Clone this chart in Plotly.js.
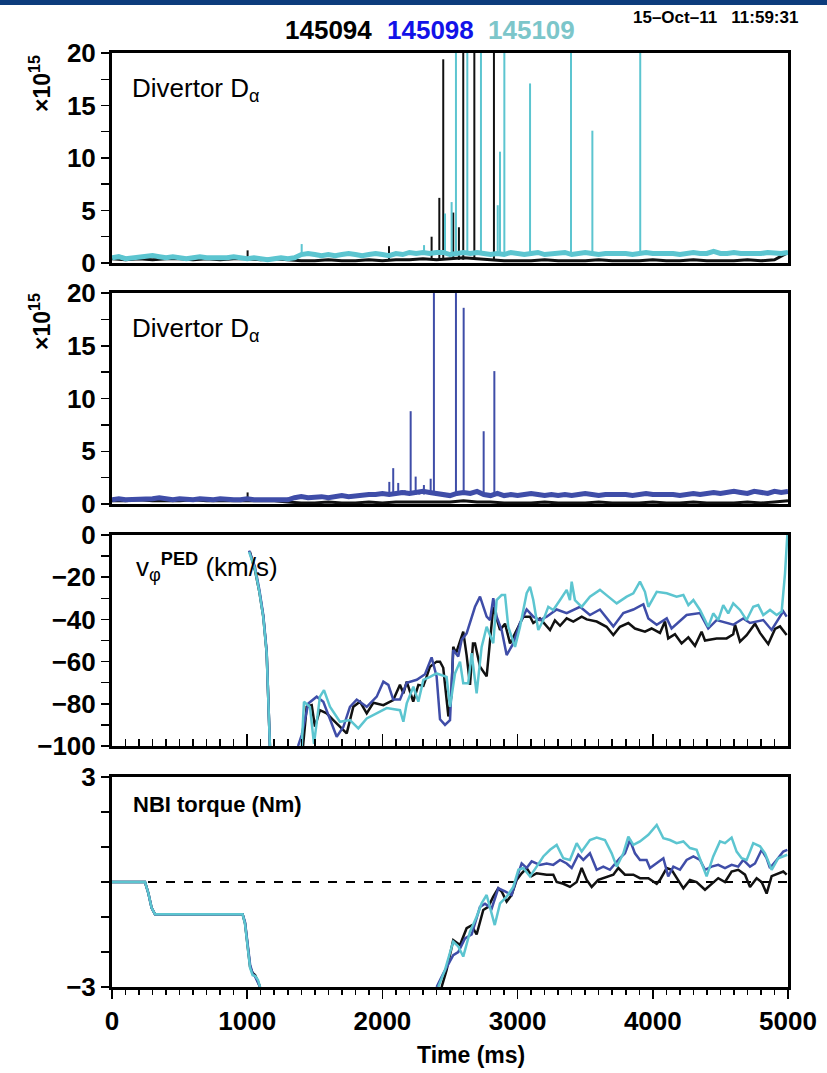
<!DOCTYPE html>
<html><head><meta charset="utf-8">
<script src="https://cdn.plot.ly/plotly-3.0.1.min.js"></script>
<style>html,body{margin:0;padding:0;background:#fff}#chart{width:827px;height:1073px}</style>
</head><body><div id="chart"></div>
<script>
// ---------------- DATA ----------------
const shots = ['145094', '145098', '145109'];
const dT = 50;      // sampling of the D-alpha baselines (ms)
const dTcoarse = 100;

// Panel 1: Divertor D-alpha (x1e15), 145094 (black) baseline, 100 ms step
const da94 = [0.4,0.3,0.4,0.3,0.4,0.4,0.3,0.4,0.3,0.4,0.4,0.3,0.4,0.3,
  0.2,0.2,0.3,0.2,0.2,0.3,0.2,0.3,0.3,0.4,0.3,0.4,0.5,0.4,0.3,0.2,
  0.2,0.2,0.3,0.2,0.2,0.2,0.3,0.2,0.2,0.2,0.3,0.2,0.2,0.3,0.2,0.2,0.2,0.3,0.2,0.3,1.0];
const spike94T = [1003, 2049, 2364, 2421, 2450, 2524, 2566, 2598, 2680, 2825];
const spike94H = [1.2, 1.6, 2.5, 6.2, 19.4, 4.8, 3.4, 20, 20, 20];

// Panel 1: 145109 (cyan) baseline, 50 ms step
const da109 = [0.5,0.6,0.4,0.5,0.5,0.6,0.7,0.6,0.5,0.6,0.5,0.4,0.5,0.6,0.5,0.5,0.4,0.5,0.6,0.5,0.4,0.5,0.4,0.3,0.4,0.5,0.4,0.5,
  0.8,
  0.9,0.8,0.7,0.8,0.7,0.8,0.9,0.8,0.7,0.8,0.9,0.8,0.7,0.9,0.8,1.0,0.9,1.0,
  0.9,1.0,1.0,0.8,0.9,1.0,0.9,1.0,0.9,0.8,
  0.9,0.8,1.0,0.9,0.8,0.9,1.0,0.8,0.9,0.9,1.0,0.8,0.9,1.0,0.9,0.8,0.9,0.9,1.0,0.9,
  0.8,0.9,1.0,0.9,0.9,1.0,0.9,0.8,0.9,1.0,0.9,0.9,1.1,0.9,0.9,1.0,0.9,0.9,0.8,0.9,1.0,0.9,0.9,1.0];
const spike109T = [1403, 2308, 2463, 2512, 2544, 2628, 2729, 2853, 2870, 2902, 3092, 3395, 3553, 3907];
const spike109H = [1.8, 1.7, 4.7, 5.8, 20, 20, 20, 5.5, 10.6, 20, 17.1, 20, 12.6, 20];

// Panel 2: 145098 (blue) baseline, 50 ms step
const da98 = [0.4,0.5,0.4,0.4,0.5,0.4,0.5,0.6,0.5,0.4,0.5,0.4,0.4,0.5,0.4,0.4,0.5,0.4,0.4,0.4,0.5,0.4,0.4,0.3,0.4,0.4,0.4,
  0.6,0.7,0.6,0.7,0.7,0.6,0.7,0.8,0.7,0.8,0.8,0.9,
  0.9,1.0,0.9,1.0,1.1,1.0,1.1,1.2,1.1,
  1.0,0.9,0.8,1.0,1.1,1.0,1.2,0.9,0.8,1.0,
  0.8,0.9,0.8,0.9,1.0,0.9,0.8,0.9,0.8,0.9,0.8,0.9,1.0,0.9,0.8,0.9,0.9,1.0,0.9,0.8,
  0.9,1.0,0.9,0.9,1.0,0.9,0.8,0.9,1.0,0.9,1.0,1.1,1.0,1.1,1.2,1.1,1.0,1.2,1.1,1.0,1.2,1.1,1.2];
const spike98T = [2051, 2080, 2117, 2140, 2165, 2209, 2246, 2273, 2307, 2357, 2381, 2544, 2601, 2749, 2828];
const spike98H = [2.1, 3.4, 2.0, 1.3, 1.3, 8.8, 2.6, 1.2, 1.8, 2.4, 20, 20, 18.6, 6.9, 12.6];
// Panel 2: 145094 (black) underneath, 100 ms step
const da94b = [0.3,0.3,0.4,0.3,0.3,0.3,0.4,0.3,0.3,0.3,0.3,0.3,0.3,0.2,
  0.1,0.1,0.2,0.1,0.1,0.2,0.1,0.2,0.2,0.2,0.2,0.2,0.3,0.2,0.2,0.1,
  0.1,0.1,0.2,0.1,0.1,0.1,0.2,0.1,0.1,0.1,0.2,0.1,0.1,0.2,0.1,0.1,0.1,0.2,0.1,0.2,0.3];
const spike94bT = [1003];
const spike94bH = [1.1];

// Panel 3: pedestal toroidal rotation v_phi^PED (km/s)
const tV94 = [1020,1057,1090,1119,1144,1160,1168,null,
  1413,1440,1477,1501,1538,1588,1637,1686,1736,1785,1834,1884,1933,2007,2080,2130,2155,2180,2228,2266,2303,2327,2352,2401,2426,2450,2488,2510,2524,2545,2561,2598,2623,2648,2670,2685,2722,2771,2820,2870,2907,2944,3042,3092,3116,3165,3240,3276,3314,3363,3412,3474,3511,3585,3658,3708,3757,3819,3868,3942,3991,4053,4090,4114,4164,4213,4263,4312,4361,4386,4472,4546,4595,4608,4645,4694,4756,4793,4854,4904,4941,4990];
const vV94 = [-8,-16.6,-27,-38.7,-56,-80,-100,null,
  -100,-81.4,-80.6,-90.8,-83,-84.5,-87.7,-91,-94,-81.4,-79,-84.5,-79.5,-80.6,-78.2,-71,-75,-69.5,-79,-71,-71.5,-67.1,-62.4,-60,-60,-62.9,-86,-76,-53,-56,-53,-45.8,-57,-71,-51.4,-51.4,-62.4,-67,-34,-45,-42,-51.4,-38.7,-38.7,-41.7,-39.5,-45,-40.5,-43,-39.5,-41,-38.7,-40,-41,-43.5,-47.4,-43.5,-41.7,-44.3,-45.8,-44.3,-46.4,-41,-49,-47,-51.4,-48.5,-52.5,-45.8,-50,-49,-49,-47,-42.5,-50.5,-47.5,-42,-46.4,-51.7,-44.5,-43.3,-47.4];
const tV98 = [1014,1057,1090,1119,1144,1160,1168,null,
  1376,1403,1452,1514,1563,1612,1662,1711,1760,1810,1884,1958,2007,2044,2080,2130,2180,2254,2315,2364,2401,2426,2463,2500,2524,2561,2586,2623,2685,2722,2771,2796,2820,2845,2882,2919,2968,3018,3067,3116,3165,3215,3289,3363,3462,3535,3609,3708,3782,3856,3930,3967,4029,4103,4139,4250,4349,4410,4472,4595,4669,4719,4817,4879,4965,4990];
const vV98 = [-7.4,-15,-26,-38,-55,-80,-100,null,
  -100,-94.8,-79.8,-76.6,-79,-87.7,-95.6,-91,-81.4,-78,-81.4,-76.6,-69.5,-71,-78,-78,-70,-68.6,-66,-58,-67,-87.3,-90,-87.7,-54.5,-57.6,-49.7,-46.6,-34,-29.2,-38.7,-40.3,-29.9,-38.7,-45,-56.9,-51.4,-41.7,-35.3,-38.7,-40.3,-38.7,-35.3,-37,-34,-37.9,-35.3,-43.3,-37,-35.3,-32.8,-39.5,-42.5,-39.5,-44.3,-37.9,-37,-44.3,-40.3,-42.5,-39.5,-41.7,-40.3,-45,-36.2,-38.7];
const tV109 = [1014,1057,1090,1119,1144,1160,1168,null,
  1403,1420,1464,1494,1538,1568,1612,1686,1760,1822,1884,1958,2032,2130,2155,2180,2229,2266,2303,2352,2401,2475,2500,2537,2574,2598,2635,2660,2697,2734,2771,2820,2845,2882,2907,2931,2981,3018,3067,3092,3116,3153,3190,3227,3264,3314,3363,3387,3400,3424,3474,3535,3609,3671,3733,3807,3856,3905,3942,3967,4029,4103,4176,4226,4263,4300,4349,4386,4410,4447,4484,4521,4558,4595,4645,4694,4743,4780,4817,4867,4916,4953,4978,4995];
const vV109 = [-8,-16,-27,-39,-56,-82,-100,null,
  -100,-79,-81.4,-99,-76.6,-73.5,-81.4,-88.5,-87.7,-91.6,-86.9,-84.5,-82,-83,-88.5,-79.8,-71.9,-79,-68.7,-67.2,-65.6,-67.2,-81.4,-65.6,-60,-70.3,-70.3,-56,-75,-53,-43.5,-51.3,-30.8,-28.4,-28.4,-43.5,-53,-43.5,-27.6,-24.5,-30.8,-45,-40.3,-34,-35.5,-30.8,-26,-30.8,-22.1,-30.8,-34,-29.2,-26,-29.2,-32.4,-29.2,-27.6,-22.1,-26.9,-34,-26.9,-27.6,-29.2,-28.4,-33.2,-30.8,-35.5,-40.3,-43.5,-37.1,-40.3,-33.2,-37.1,-32.4,-35.5,-40.3,-34,-33.2,-37.9,-35.5,-37.9,-36.3,-18.2,0];

// Panel 4: NBI torque (Nm)
const tT94 = [0,244,269,293,318,966,984,1008,1021,1040,1058,1080,1095,null,
  2438,2475,2524,2574,2623,2660,2697,2746,2783,2820,2857,2882,2919,2956,2993,3030,3067,3104,3141,3215,3264,3289,3338,3387,3437,3474,3511,3548,3597,3658,3708,3745,3794,3856,3905,3967,4029,4053,4103,4139,4176,4226,4275,4324,4386,4435,4484,4534,4583,4632,4682,4719,4768,4805,4842,4879,4928,4965,4990];
const qT94 = [0,0,-0.32,-0.74,-0.92,-0.92,-1.18,-2.03,-2.42,-2.6,-2.66,-2.85,-3,null,
  -3,-2.51,-1.66,-1.8,-1.32,-1.24,-1.5,-0.8,-0.71,-0.42,-0.18,-0.27,-0.56,-0.37,0.06,0.25,0.4,0.17,0.25,0.21,0.21,0,-0.05,-0.14,0,0.4,0.06,-0.14,0.06,0.15,0.21,0.4,0.21,0.21,0.11,0.11,-0.05,0.06,0.4,0.35,0.11,-0.18,0.06,0,-0.22,-0.05,0.11,0,0.3,0.35,0.21,-0.14,0.11,0,-0.33,0.17,0.25,0.3,0.21];
const tT98 = [0,244,269,293,318,966,984,1008,1021,1040,1058,1080,1095,null,
  2401,2451,2524,2561,2611,2660,2722,2759,2808,2857,2907,2956,2993,3030,3067,3104,3165,3215,3264,3314,3363,3400,3449,3486,3535,3585,3634,3683,3757,3794,3831,3868,3905,3954,3979,4029,4078,4114,4152,4201,4250,4300,4349,4386,4435,4484,4534,4583,4632,4669,4719,4756,4805,4842,4867,4916,4965,4995];
const qT98 = [0,0,-0.32,-0.74,-0.92,-0.92,-1.15,-1.95,-2.35,-2.62,-2.7,-2.88,-3,null,
  -3,-2.61,-2.09,-2.0,-1.61,-1.5,-0.71,-0.62,-0.76,-0.18,-0.27,-0.37,0.11,0.53,0.4,0.59,0.49,0.53,0.49,0.63,0.53,0.4,0.78,0.63,0.82,0.35,0.44,0.35,0.68,0.82,1.2,0.82,0.63,0.63,0.4,0.53,0.68,0.16,0.44,0.35,0.63,0.73,0.63,0.35,0.44,0.49,0.4,0.49,0.44,0.63,0.44,0.53,0.92,0.68,0.4,0.63,0.87,0.92];
const tT109 = [0,244,269,293,318,966,984,1008,1021,1040,1058,1080,1095,null,
  2413,2463,2524,2561,2598,2648,2697,2734,2771,2796,2831,2870,2919,2968,3006,3042,3092,3141,3190,3240,3289,3338,3387,3437,3474,3535,3585,3646,3696,3733,3782,3819,3856,3905,3967,4029,4078,4127,4176,4226,4275,4324,4361,4398,4447,4497,4534,4583,4620,4657,4694,4743,4793,4830,4879,4928,4995];
const qT109 = [0,0,-0.32,-0.74,-0.92,-0.92,-1.2,-2.05,-2.45,-2.66,-2.68,-2.8,-3,null,
  -3,-2.51,-1.7,-1.84,-2.13,-1.42,-0.99,-0.61,-0.37,-0.71,-1.23,-0.61,-0.42,-0.14,0.35,0.4,0.16,0.44,0.73,0.92,1.06,0.68,0.63,1.11,0.87,1.2,1.27,1.2,0.82,0.44,0.82,1.3,1.06,1.16,1.35,1.63,1.25,1.2,1.11,1.16,0.97,0.92,0.53,0.16,0.73,1.16,1.11,1.27,0.87,0.68,0.63,1.11,1.02,0.82,0.35,0.68,0.78];

// ---------------- STYLE ----------------
const C94 = '#111111', C98 = '#3f4da8', C109 = '#5cc5d0';
const FN = '"Liberation Sans", Arial, sans-serif';
const tickF = {family: FN, size: 26, color: '#000', weight: 'bold'};

function spikes(ts, hs, base) {
  const x = [], y = [];
  ts.forEach((t, i) => { x.push(t, t, null); y.push(base, hs[i], null); });
  return {x, y};
}
const s94 = spikes(spike94T, spike94H, 0.3);
const s109 = spikes(spike109T, spike109H, 0.8);
const s98 = spikes(spike98T, spike98H, 0.9);
const s94b = spikes(spike94bT, spike94bH, 0.3);

const traces = [
  // panel 1
  {type:'scatter', mode:'lines', xaxis:'x', yaxis:'y', x0:0, dx:dTcoarse, y:da94, line:{color:C94, width:3}, hoverinfo:'skip'},
  {type:'scatter', mode:'lines', xaxis:'x', yaxis:'y', x:s94.x, y:s94.y, line:{color:C94, width:2}, hoverinfo:'skip'},
  {type:'scatter', mode:'lines', xaxis:'x', yaxis:'y', x0:0, dx:dT, y:da109, line:{color:C109, width:5}, hoverinfo:'skip'},
  {type:'scatter', mode:'lines', xaxis:'x', yaxis:'y', x:s109.x, y:s109.y, line:{color:C109, width:2}, hoverinfo:'skip'},
  // panel 2
  {type:'scatter', mode:'lines', xaxis:'x2', yaxis:'y2', x0:0, dx:dTcoarse, y:da94b, line:{color:C94, width:3}, hoverinfo:'skip'},
  {type:'scatter', mode:'lines', xaxis:'x2', yaxis:'y2', x:s94b.x, y:s94b.y, line:{color:C94, width:2}, hoverinfo:'skip'},
  {type:'scatter', mode:'lines', xaxis:'x2', yaxis:'y2', x0:0, dx:dT, y:da98, line:{color:C98, width:5}, hoverinfo:'skip'},
  {type:'scatter', mode:'lines', xaxis:'x2', yaxis:'y2', x:s98.x, y:s98.y, line:{color:C98, width:2}, hoverinfo:'skip'},
  // panel 3
  {type:'scatter', mode:'lines', xaxis:'x3', yaxis:'y3', x:tV94, y:vV94, line:{color:C94, width:2.5}, hoverinfo:'skip'},
  {type:'scatter', mode:'lines', xaxis:'x3', yaxis:'y3', x:tV98, y:vV98, line:{color:C98, width:2.5}, hoverinfo:'skip'},
  {type:'scatter', mode:'lines', xaxis:'x3', yaxis:'y3', x:tV109, y:vV109, line:{color:C109, width:2.5}, hoverinfo:'skip'},
  // panel 4
  {type:'scatter', mode:'lines', xaxis:'x4', yaxis:'y4', x:tT94, y:qT94, line:{color:C94, width:2.5}, hoverinfo:'skip'},
  {type:'scatter', mode:'lines', xaxis:'x4', yaxis:'y4', x:tT98, y:qT98, line:{color:C98, width:2.5}, hoverinfo:'skip'},
  {type:'scatter', mode:'lines', xaxis:'x4', yaxis:'y4', x:tT109, y:qT109, line:{color:C109, width:2.5}, hoverinfo:'skip'}
];

const xBase = {range:[0,5000], showgrid:false, zeroline:false, showline:true, linecolor:'#000', linewidth:3, mirror:true, fixedrange:true};
const yBase = {showgrid:false, zeroline:false, showline:true, linecolor:'#000', linewidth:3, mirror:true, fixedrange:true,
  ticks:'outside', ticklen:8, tickwidth:1.5, tickcolor:'#000', tickfont:tickF};

function P(px, py) { return {x:(px-112)/676, y:(987-py)/934}; }
function ann(px, py, text, font, extra) {
  const p = P(px, py);
  return Object.assign({xref:'paper', yref:'paper', x:p.x, y:p.y, xanchor:'center', yanchor:'middle', text:text, showarrow:false, font:font}, extra || {});
}

const layout = {
  width:827, height:1073, showlegend:false,
  paper_bgcolor:'#fff', plot_bgcolor:'#fff',
  margin:{l:112, r:39, t:53, b:86},
  xaxis: {...xBase, anchor:'y', ticks:'', showticklabels:false},
  xaxis2:{...xBase, anchor:'y2', ticks:'', showticklabels:false},
  xaxis3:{...xBase, anchor:'y3', ticks:'inside', tickmode:'linear', tick0:0, dtick:1000, ticklen:12, tickwidth:1.5, tickcolor:'#000', showticklabels:false,
          minor:{ticks:'inside', dtick:100, ticklen:7, tickwidth:1.5, tickcolor:'#000'}},
  xaxis4:{...xBase, anchor:'y4', ticks:'outside', tickmode:'linear', tick0:0, dtick:1000, ticklen:9, tickwidth:1.5, tickcolor:'#000', tickfont:tickF,
          minor:{ticks:'outside', dtick:100, ticklen:5, tickwidth:1.5, tickcolor:'#000'}},
  yaxis: {...yBase, anchor:'x', domain:[0.7752,1], range:[0,20], tickmode:'linear', tick0:0, dtick:5,
          minor:{ticks:'outside', dtick:2.5, ticklen:8, tickwidth:1.5, tickcolor:'#000'}},
  yaxis2:{...yBase, anchor:'x2', domain:[0.5171,0.7430], range:[0,20], tickmode:'linear', tick0:0, dtick:5,
          minor:{ticks:'outside', dtick:2.5, ticklen:8, tickwidth:1.5, tickcolor:'#000'}},
  yaxis3:{...yBase, anchor:'x3', domain:[0.2580,0.4839], range:[-100,0], tickmode:'linear', tick0:0, dtick:20,
          minor:{ticks:'outside', dtick:10, ticklen:8, tickwidth:1.5, tickcolor:'#000'}},
  yaxis4:{...yBase, anchor:'x4', domain:[0,0.2248], range:[-3,3], tickmode:'array',
          tickvals:[-3,-2,-1,0,1,2,3], ticktext:['\u22123','','','','','','3']},
  shapes:[
    {type:'line', xref:'x4', yref:'y4', x0:0, x1:5000, y0:0, y1:0, line:{color:'#000', width:2, dash:'dash'}, layer:'below'},
    {type:'rect', xref:'paper', yref:'paper', x0:-0.2, x1:1.1, y0:1.0515, y1:1.06, fillcolor:'#0d3c7c', line:{width:0}}
  ],
  annotations:[
    ann(328, 30, '<b>'+shots[0]+'</b>', {family:FN, size:26, color:'#000'}),
    ann(430, 30, '<b>'+shots[1]+'</b>', {family:FN, size:26, color:'#1212e8'}),
    ann(531, 30, '<b>'+shots[2]+'</b>', {family:FN, size:26, color:'#7cc6ca'}),
    ann(800, 18, '<b>15\u2013Oct\u201311   11:59:31</b>', {family:FN, size:17, color:'#000'}, {xanchor:'right'}),
    ann(130, 90, 'Divertor D<sub>\u03b1</sub>', {family:FN, size:26, color:'#000'}, {xanchor:'left'}),
    ann(130, 329, 'Divertor D<sub>\u03b1</sub>', {family:FN, size:26, color:'#000'}, {xanchor:'left'}),
    ann(134, 567, 'v<sub>\u03c6</sub><sup><b>PED</b></sup> (km/s)', {family:FN, size:26, color:'#000'}, {xanchor:'left'}),
    ann(131, 804, '<b>NBI torque (Nm)</b>', {family:FN, size:22, color:'#000'}, {xanchor:'left'}),
    ann(471, 1055, '<b>Time (ms)</b>', {family:FN, size:23, color:'#000'}),
    ann(40, 84, '<b>\u00d710<sup>15</sup></b>', {family:FN, size:23, color:'#000'}, {textangle:-90}),
    ann(40, 322, '<b>\u00d710<sup>15</sup></b>', {family:FN, size:23, color:'#000'}, {textangle:-90})
  ]
};

Plotly.newPlot('chart', traces, layout, {displayModeBar:false, staticPlot:true});
</script></body></html>
